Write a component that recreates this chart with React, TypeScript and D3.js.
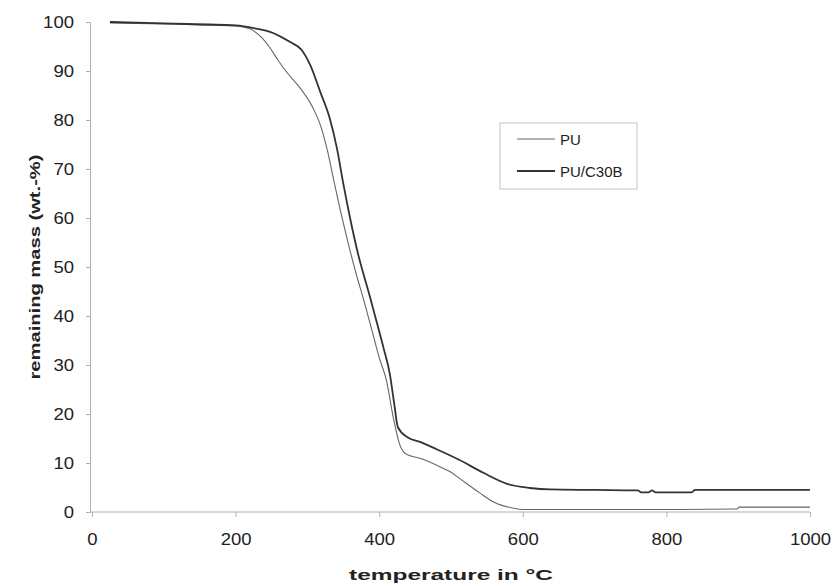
import React, { useRef, useEffect } from 'react';
import * as d3 from 'd3';

// TGA curves: temperature (°C) and remaining mass (wt.-%)
const puTemp = [25, 100, 150, 200, 220, 235, 248, 260, 271, 290, 308, 318, 327, 337, 349, 360, 370, 377, 390, 400, 410, 420, 428, 436, 460, 485, 499, 515, 540, 560, 586, 600, 700, 800, 898, 902, 1000];
const puMass = [99.8, 99.6, 99.4, 99.2, 98.6, 97, 94.7, 92, 89.8, 86.5, 82.4, 79, 74.3, 67.5, 59.6, 53, 47.5, 44, 37, 31.5, 26.9, 19, 14, 12, 10.8, 9.2, 8.2, 6.5, 3.9, 2, 0.8, 0.5, 0.5, 0.5, 0.6, 1.0, 1.0];

const c30bTemp = [25, 100, 200, 230, 248, 276, 292, 304, 318, 331, 341, 350, 360, 370, 387, 397, 406, 415, 421, 426, 440, 457, 480, 512, 545, 579, 610, 638, 700, 760, 765, 775, 780, 785, 835, 840, 1000];
const c30bMass = [100, 99.7, 99.3, 98.6, 98, 95.9, 94.3, 91.2, 85.7, 80.4, 74.3, 67, 59.6, 53, 44, 38.5, 33.5, 28, 22, 17.3, 15.2, 14.3, 12.8, 10.6, 8, 5.7, 4.9, 4.6, 4.5, 4.4, 4.0, 4.0, 4.4, 4.0, 4.0, 4.5, 4.5];

const xTicks = [0, 200, 400, 600, 800, 1000];
const yTicks = [0, 10, 20, 30, 40, 50, 60, 70, 80, 90, 100];

const seriesNames = ['PU', 'PU/C30B'];

const App = () => {
    const ref = useRef(null);

    useEffect(() => {
        if (!ref.current) return;
        const svg = d3.select(ref.current);
        svg.selectAll('*').remove();

        const font = 'Liberation Sans, Arial, sans-serif';
        const x = d3.scaleLinear().domain([0, 1000]).range([92, 810]);
        const y = d3.scaleLinear().domain([0, 100]).range([512, 22]);

        // axes
        const yAxis = svg.append('g')
            .attr('transform', `translate(90,0)`)
            .call(d3.axisLeft(y).tickValues(yTicks).tickSize(4).tickPadding(12).tickFormat(d3.format('d')));
        const xAxis = svg.append('g')
            .attr('transform', `translate(0,512)`)
            .call(d3.axisBottom(x).tickValues(xTicks).tickSize(5).tickPadding(17).tickFormat(d3.format('d')));
        [xAxis, yAxis].forEach(a => {
            a.select('.domain').attr('stroke', '#b0b0b0');
            a.selectAll('.tick line').attr('stroke', '#b0b0b0');
            a.selectAll('.tick text')
                .attr('fill', '#222')
                .attr('textLength', d => String(d).length * 10.3)
                .attr('lengthAdjust', 'spacingAndGlyphs')
                .style('font-family', font)
                .style('font-size', '16px');
        });
        xAxis.select('.domain').attr('d', `M${x(0) - 2},0H${x(1000)}`);

        const line = d3.line().curve(d3.curveMonotoneX).x(d => x(d[0])).y(d => y(d[1]));

        svg.append('path')
            .datum(d3.zip(puTemp, puMass))
            .attr('d', line)
            .attr('fill', 'none')
            .attr('stroke', '#666')
            .attr('stroke-width', 1.1);

        svg.append('path')
            .datum(d3.zip(c30bTemp, c30bMass))
            .attr('d', line)
            .attr('fill', 'none')
            .attr('stroke', '#333')
            .attr('stroke-width', 1.8);

        // legend
        const lg = svg.append('g');
        lg.append('rect')
            .attr('x', 500).attr('y', 123)
            .attr('width', 137).attr('height', 66)
            .attr('fill', 'white')
            .attr('stroke', '#c4c4c4');
        seriesNames.forEach((name, i) => {
            const ly = 139 + i * 32;
            lg.append('line')
                .attr('x1', 517).attr('x2', 555)
                .attr('y1', ly).attr('y2', ly)
                .attr('stroke', i === 0 ? '#666' : '#333')
                .attr('stroke-width', i === 0 ? 1.1 : 1.8);
            lg.append('text')
                .attr('x', 560).attr('y', ly + 5.5)
                .attr('fill', '#222')
                .style('font-family', font)
                .style('font-size', '15px')
                .text(name);
        });

        // titles
        svg.append('text')
            .attr('x', 451).attr('y', 580)
            .attr('text-anchor', 'middle')
            .attr('fill', '#222')
            .attr('textLength', 204)
            .attr('lengthAdjust', 'spacingAndGlyphs')
            .style('font-family', font)
            .style('font-size', '15px')
            .style('font-weight', 'bold')
            .text('temperature in °C');

        svg.append('text')
            .attr('transform', 'translate(40,267) rotate(-90)')
            .attr('text-anchor', 'middle')
            .attr('fill', '#222')
            .attr('textLength', 225)
            .attr('lengthAdjust', 'spacingAndGlyphs')
            .style('font-family', font)
            .style('font-size', '15px')
            .style('font-weight', 'bold')
            .text('remaining mass (wt.-%)');
    }, []);

    return (
        <svg ref={ref} width={834} height={586}
            style={{ position: 'absolute', left: 0, top: 0, background: 'white' }} />
    );
};

export default App;
